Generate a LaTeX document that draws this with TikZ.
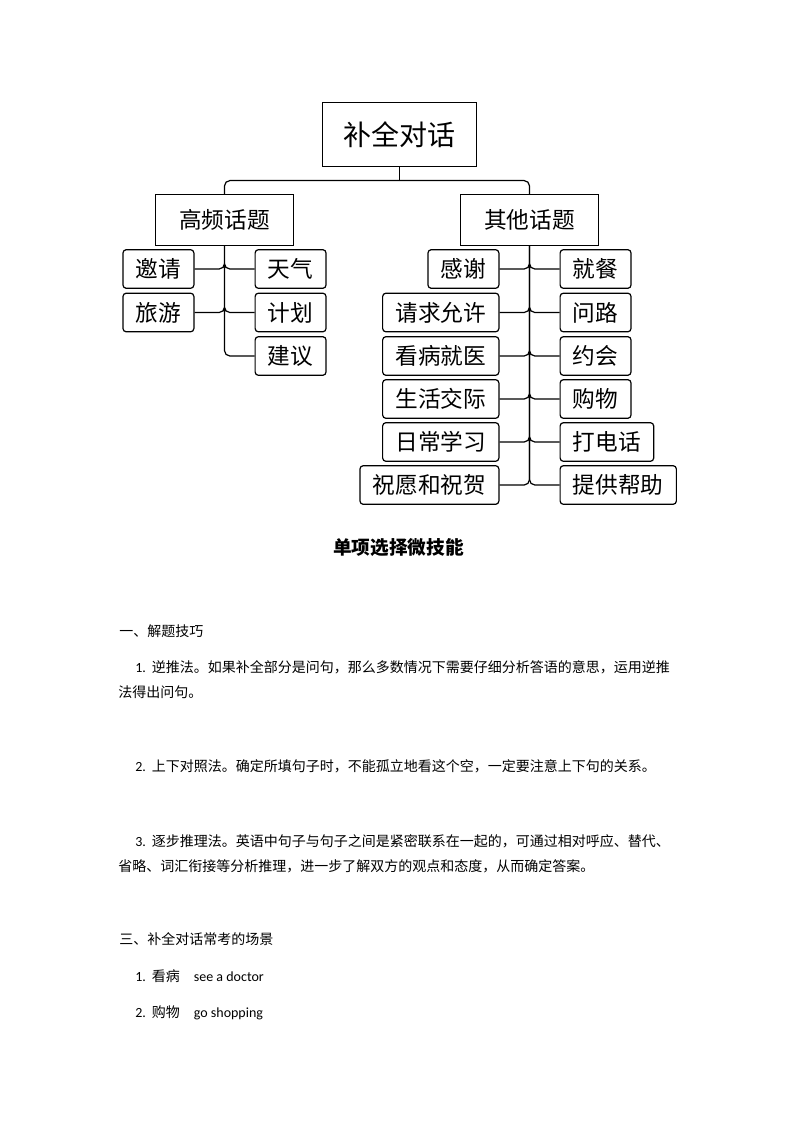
\documentclass[tikz,border=0pt]{standalone}
\usepackage{fontspec}
\setmainfont{Noto Sans CJK SC}
\newfontfamily\lat{Carlito}

\tikzset{
  box/.style={draw, line width=0.9pt, inner sep=0pt},
  topbox/.style={box, minimum width=115.5pt, minimum height=48pt, font=\fontsize{21}{21}\selectfont},
  midbox/.style={box, minimum width=103.5pt, minimum height=38.25pt, font=\fontsize{17}{17}\selectfont},
  leaf/.style={box, rounded corners=2.5pt, inner xsep=9.6pt, minimum height=29pt, font=\fontsize{17}{17}\selectfont},
  link/.style={line width=0.9pt, rounded corners=4pt},
  body/.style={anchor=west, inner sep=0pt, font=\fontsize{10.5}{12}\selectfont},
}

\begin{document}
\begin{tikzpicture}[x=0.75pt,y=-0.75pt]
\useasboundingbox (0,0) rectangle (794,1123);
\node[topbox] (n0) at (399.5,134.5) {补全对话};
\node[midbox] (n1) at (224.5,220) {高频话题};
\node[midbox] (n2) at (529.5,220) {其他话题};
\node[leaf, anchor=east] (a1) at (194.5,269) {邀请};
\node[leaf, anchor=east] (a2) at (194.5,312.5) {旅游};
\node[leaf, anchor=west] (b1) at (254.5,269) {天气};
\node[leaf, anchor=west] (b2) at (254.5,312.5) {计划};
\node[leaf, anchor=west] (b3) at (254.5,356) {建议};
\node[leaf, anchor=east] (c1) at (499.5,269) {感谢};
\node[leaf, anchor=east] (c2) at (499.5,312.5) {请求允许};
\node[leaf, anchor=east] (c3) at (499.5,356) {看病就医};
\node[leaf, anchor=east] (c4) at (499.5,399) {生活交际};
\node[leaf, anchor=east] (c5) at (499.5,442) {日常学习};
\node[leaf, anchor=east] (c6) at (499.5,485) {祝愿和祝贺};
\node[leaf, anchor=west] (d1) at (559.5,269) {就餐};
\node[leaf, anchor=west] (d2) at (559.5,312.5) {问路};
\node[leaf, anchor=west] (d3) at (559.5,356) {约会};
\node[leaf, anchor=west] (d4) at (559.5,399) {购物};
\node[leaf, anchor=west] (d5) at (559.5,442) {打电话};
\node[leaf, anchor=west] (d6) at (559.5,485) {提供帮助};
\draw[line width=0.9pt] (n0.south) -- ++(0,13.5) coordinate (j0);
\draw[link] (j0) -| (n1.north) (j0) -| (n2.north);
\draw[link] (n1.south) |- (a1.east) (n1.south) |- (a2.east)
  (n1.south) |- (b1.west) (n1.south) |- (b2.west) (n1.south) |- (b3.west);
\draw[link] (n2.south) |- (c1.east) (n2.south) |- (c2.east) (n2.south) |- (c3.east)
  (n2.south) |- (c4.east) (n2.south) |- (c5.east) (n2.south) |- (c6.east);
\draw[link] (n2.south) |- (d1.west) (n2.south) |- (d2.west) (n2.south) |- (d3.west)
  (n2.south) |- (d4.west) (n2.south) |- (d5.west) (n2.south) |- (d6.west);

\node[font=\bfseries\fontsize{14}{14}\selectfont] (s0) at (398.5,548) {单项选择微技能};
\node[body] (s1) at (119,631) {一、解题技巧};
\node[body] (s2) at (135,667) {{\lat 1.}\hspace{4.5pt}逆推法。如果补全部分是问句，那么多数情况下需要仔细分析答语的意思，运用逆推};
\node[body] (s3) at (118,692) {法得出问句。};
\node[body] (s4) at (135,766) {{\lat 2.}\hspace{4.5pt}上下对照法。确定所填句子时，不能孤立地看这个空，一定要注意上下句的关系。};
\node[body] (s5) at (135,841) {{\lat 3.}\hspace{4.5pt}逐步推理法。英语中句子与句子之间是紧密联系在一起的，可通过相对呼应、替代、};
\node[body] (s6) at (118,866) {省略、词汇衔接等分析推理，进一步了解双方的观点和态度，从而确定答案。};
\node[body] (s7) at (119,939) {三、补全对话常考的场景};
\node[body] (s8) at (135,976) {{\lat 1.}\hspace{4.5pt}看病\hspace{10.5pt}{\lat see a doctor}};
\node[body] (s9) at (135,1013) {{\lat 2.}\hspace{4.5pt}购物\hspace{10.5pt}{\lat go shopping}};
\end{tikzpicture}
\end{document}
